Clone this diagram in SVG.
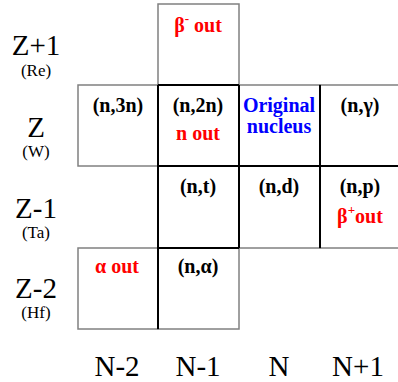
<svg xmlns="http://www.w3.org/2000/svg" width="398" height="382" viewBox="0 0 398 382">
<style>
.cell{fill:#fff;stroke:#808080;stroke-width:1.5}
.thick{stroke:#000;stroke-width:2;fill:none}
text{font-family:'Liberation Serif','DejaVu Serif','Times New Roman',Times,serif}
.lab{font-size:29px;fill:#000;text-anchor:middle}
.sub{font-size:17px;fill:#000;text-anchor:middle}
.t{font-size:20px;font-weight:bold;fill:#000;text-anchor:middle}
.red{fill:#ff0000}
.blue{fill:#0000ff}
</style>
<rect width="398" height="382" fill="#fff"/>
<g id="cell-beta-minus"><rect class="cell" x="158" y="4" width="81" height="81"/><text class="t red" x="198" y="32">β<tspan font-size="13" dy="-9">-</tspan><tspan dy="9"> out</tspan></text></g>
<g id="cell-n3n"><rect class="cell" x="78" y="85" width="80" height="81"/><text class="t" x="118" y="112">(n,3n)</text></g>
<g id="cell-n2n"><rect class="cell" x="158" y="85" width="81" height="81"/><text class="t" x="198" y="112">(n,2n)</text><text class="t red" x="198" y="140">n out</text></g>
<g id="cell-original"><rect class="cell" x="239" y="85" width="81" height="81"/><text class="t blue" x="279" y="112">Original</text><text class="t blue" x="279" y="133">nucleus</text></g>
<g id="cell-ngamma"><rect class="cell" x="320" y="85" width="82" height="81"/><text class="t" x="360" y="112">(n,γ)</text></g>
<g id="cell-nt"><rect class="cell" x="158" y="166" width="81" height="82"/><text class="t" x="198" y="193">(n,t)</text></g>
<g id="cell-nd"><rect class="cell" x="239" y="166" width="81" height="82"/><text class="t" x="279" y="193">(n,d)</text></g>
<g id="cell-np"><rect class="cell" x="320" y="166" width="82" height="82"/><text class="t" x="360" y="193">(n,p)</text><text class="t red" x="360" y="223">β<tspan font-size="13" dy="-9">+</tspan><tspan dy="9">out</tspan></text></g>
<g id="cell-alpha"><rect class="cell" x="78" y="248" width="80" height="81"/><text class="t red" x="117" y="273">α out</text></g>
<g id="cell-nalpha"><rect class="cell" x="158" y="248" width="81" height="81"/><text class="t" x="198" y="273">(n,α)</text></g>
<g id="borders">
<path class="thick" d="M158 85V329M239 85V248M320 85V248M158 85H239M158 166H400M158 248H239"/>
</g>
<g id="row-labels">
<text class="lab" x="36" y="55">Z+1</text><text class="sub" x="36" y="76">(Re)</text>
<text class="lab" x="36" y="137">Z</text><text class="sub" x="36" y="157">(W)</text>
<text class="lab" x="36" y="218">Z-1</text><text class="sub" x="36" y="238">(Ta)</text>
<text class="lab" x="36" y="298">Z-2</text><text class="sub" x="36" y="318">(Hf)</text>
</g>
<g id="col-labels">
<text class="lab" x="117" y="376">N-2</text>
<text class="lab" x="198" y="376">N-1</text>
<text class="lab" x="279" y="376">N</text>
<text class="lab" x="358" y="376">N+1</text>
</g>
</svg>
